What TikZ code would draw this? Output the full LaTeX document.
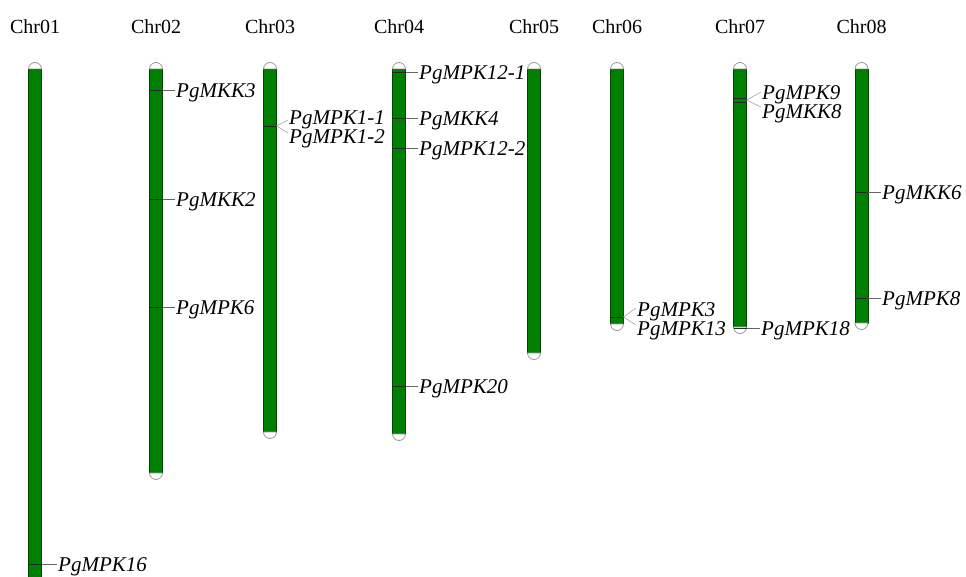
\documentclass[tikz,border=0pt]{standalone}
\usepackage{fontspec}
\setmainfont{Liberation Serif}
\definecolor{chrgreen}{RGB}{0,128,0}
\tikzset{
  chrbar/.style={draw=chrgreen!55!black, fill=chrgreen, line width=0.5pt, minimum width=13pt, inner sep=0pt, outer sep=0pt},
  chrcap/.style={draw=gray!80, fill=white, line width=0.8pt},
  chrlabel/.style={font=\fontsize{20}{24}\selectfont, inner sep=0pt},
  gene/.style={font=\fontsize{21}{24}\selectfont\itshape, anchor=west, inner sep=1pt, yshift=-3pt},
  tickmark/.style={draw=black!85, line width=0.8pt},
  leadline/.style={draw=gray!80!black, line width=0.6pt},
  fanline/.style={draw=gray!70, line width=0.6pt},
}
\begin{document}
\begin{tikzpicture}[x=1pt,y=-1pt]
\clip (0,0) rectangle (966,577);
\fill[white] (0,0) rectangle (966,577);
% chromosomes: name/x/top/bottom/label
\foreach \n/\x/\t/\b/\lab in {c1/35/69/600/Chr01, c2/156/69/473/Chr02, c3/270/69/432/Chr03, c4/399/69/434/Chr04, c5/534/69/353/Chr05, c6/617/69/324/Chr06, c7/740/69/327/Chr07, c8/861.5/69/323/Chr08}{
  \node[chrbar, minimum height={(\b-\t)*1pt}] (\n) at (\x,{(\t+\b)/2}) {};
  \draw[chrcap] (\x-6.5,\t) arc[start angle=180, end angle=0, radius=6.5pt] -- cycle;
  \draw[chrcap] (\x-6.5,\b) arc[start angle=180, end angle=360, radius=6.5pt] -- cycle;
  \node[chrlabel] (\n l) at (\x,27) {\lab};
}
% simple genes: chromosome/y/textx/name/text
\foreach \c/\y/\tx/\g/\txt in {c1/564/57/gA/PgMPK16, c2/90/175/gB/PgMKK3, c2/199/175/gC/PgMKK2, c2/307/175/gD/PgMPK6, c4/72/418/gE/PgMPK12-1, c4/118/418/gF/PgMKK4, c4/148/418/gG/PgMPK12-2, c4/386/418/gH/PgMPK20, c7/328/760/gI/PgMPK18, c8/192/881/gJ/PgMKK6, c8/298/881/gK/PgMPK8}{
  \node[gene] (\g) at (\tx,\y) {\txt};
  \draw[tickmark] (\c.west |- 0,\y) -- (\c.east |- 0,\y);
  \draw[leadline] (\c.east |- 0,\y) -- (\g.west |- 0,\y);
}
% fanned gene pairs
\node[gene] (gL) at (288,117) {PgMPK1-1};
\node[gene] (gM) at (288,136) {PgMPK1-2};
\draw[tickmark] (c3.west |- 0,126) -- (c3.east |- 0,126);
\coordinate (fa) at (c3.east |- 0,126);
\draw[fanline] (fa) -- (gL.west |- 0,120);
\draw[fanline] (fa) -- (gM.west |- 0,133);

\node[gene] (gN) at (636,309) {PgMPK3};
\node[gene] (gO) at (636,328) {PgMPK13};
\draw[tickmark] (c6.west |- 0,317) -- (c6.east |- 0,317);
\coordinate (fb) at (c6.east |- 0,317);
\draw[fanline] (fb) -- (gN.west |- 0,308);
\draw[fanline] (fb) -- (gO.west |- 0,325);

\node[gene] (gP) at (761,92) {PgMPK9};
\node[gene] (gQ) at (761,111) {PgMKK8};
\draw[tickmark] (c7.west |- 0,98) -- (c7.east |- 0,98);
\draw[tickmark] (c7.west |- 0,102) -- (c7.east |- 0,102);
\coordinate (fc) at (c7.east |- 0,100);
\draw[fanline] (fc) -- (gP.west |- 0,92);
\draw[fanline] (fc) -- (gQ.west |- 0,107);
\end{tikzpicture}
\end{document}
